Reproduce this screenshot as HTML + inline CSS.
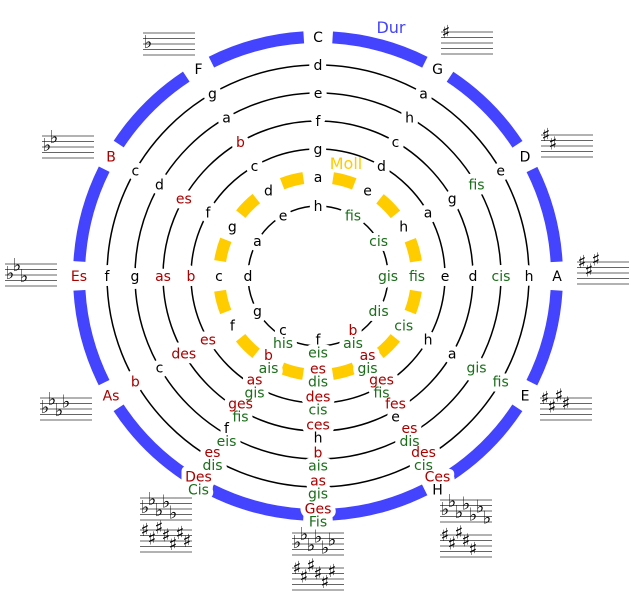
<!DOCTYPE html>
<html><head><meta charset="utf-8"><style>
html,body{margin:0;padding:0;background:#fff;}
svg{display:block;}
.l{font-family:"DejaVu Sans","Liberation Sans",sans-serif;font-size:14px;text-anchor:middle;}
.bg text{fill:#fff !important;stroke:#fff;stroke-width:10px;stroke-linejoin:round;}
.k{fill:#000}.r{fill:#aa0000}.g{fill:#1a6e1a}
.a{font-family:"DejaVu Sans",sans-serif;font-size:18px;text-anchor:middle;fill:#000;}
</style></head><body>
<svg width="635" height="600" viewBox="0 0 635 600" xmlns="http://www.w3.org/2000/svg">
<defs><path id="st" d="M0 0h52M0 5.5h52M0 11h52M0 16.5h52M0 22h52" stroke="#666" stroke-width="1" fill="none"/></defs>
<g fill="none">
<circle cx="318" cy="276" r="239" stroke="#4444ff" stroke-width="12" stroke-dasharray="96.1 29.04" stroke-dashoffset="-14.5"/>
<circle cx="318" cy="276" r="211" stroke="#000" stroke-width="1.5"/>
<circle cx="318" cy="276" r="183" stroke="#000" stroke-width="1.5"/>
<circle cx="318" cy="276" r="155" stroke="#000" stroke-width="1.5"/>
<circle cx="318" cy="276" r="127" stroke="#000" stroke-width="1.5"/>
<circle cx="318" cy="276" r="99" stroke="#ffcc00" stroke-width="12" stroke-dasharray="22 29.84" stroke-dashoffset="-14.9"/>
<circle cx="318" cy="276" r="70" stroke="#000" stroke-width="1.5"/>
</g>
<g class="l bg" aria-hidden="true">
<text x="318" y="42">C</text><text x="318" y="70">d</text><text x="318" y="98">e</text><text x="318" y="126">f</text><text x="318" y="154">g</text><text x="318" y="182">a</text><text x="318" y="211">h</text>
<text x="437.5" y="74">G</text><text x="423.5" y="98.3">a</text><text x="409.5" y="122.5">h</text><text x="395.5" y="146.8">c</text><text x="381.5" y="171">d</text><text x="367.5" y="195.3">e</text><text x="353" y="220.4">fis</text>
<text x="525" y="161.5">D</text><text x="500.7" y="175.5">e</text><text x="476.5" y="189.5">fis</text><text x="452.2" y="203.5">g</text><text x="428" y="217.5">a</text><text x="403.7" y="231.5">h</text><text x="378.6" y="246">cis</text>
<text x="557" y="281">A</text><text x="529" y="281">h</text><text x="501" y="281">cis</text><text x="473" y="281">d</text><text x="445" y="281">e</text><text x="417" y="281">fis</text><text x="388" y="281">gis</text>
<text x="525" y="400.5">E</text><text x="500.7" y="386.5">fis</text><text x="476.5" y="372.5">gis</text><text x="452.2" y="358.5">a</text><text x="428" y="344.5">h</text><text x="403.7" y="330.5">cis</text><text x="378.6" y="316">dis</text>
<text x="437.5" y="481.5">Ces</text><text x="437.5" y="494.5">H</text><text x="423.5" y="457.2">des</text><text x="423.5" y="470.2">cis</text><text x="409.5" y="433">es</text><text x="409.5" y="446">dis</text><text x="395.5" y="408.7">fes</text><text x="395.5" y="421.7">e</text><text x="381.5" y="384.5">ges</text><text x="381.5" y="397.5">fis</text><text x="367.5" y="360.2">as</text><text x="367.5" y="373.2">gis</text><text x="353" y="335.1">b</text><text x="353" y="348.1">ais</text>
<text x="318" y="513.5">Ges</text><text x="318" y="526.5">Fis</text><text x="318" y="485.5">as</text><text x="318" y="498.5">gis</text><text x="318" y="457.5">b</text><text x="318" y="470.5">ais</text><text x="318" y="429.5">ces</text><text x="318" y="442.5">h</text><text x="318" y="401.5">des</text><text x="318" y="414.5">cis</text><text x="318" y="373.5">es</text><text x="318" y="386.5">dis</text><text x="318" y="344.5">f</text><text x="318" y="357.5">eis</text>
<text x="198.5" y="481.5">Des</text><text x="198.5" y="494.5">Cis</text><text x="212.5" y="457.2">es</text><text x="212.5" y="470.2">dis</text><text x="226.5" y="433">f</text><text x="226.5" y="446">eis</text><text x="240.5" y="408.7">ges</text><text x="240.5" y="421.7">fis</text><text x="254.5" y="384.5">as</text><text x="254.5" y="397.5">gis</text><text x="268.5" y="360.2">b</text><text x="268.5" y="373.2">ais</text><text x="283" y="335.1">c</text><text x="283" y="348.1">his</text>
<text x="111" y="400.5">As</text><text x="135.3" y="386.5">b</text><text x="159.5" y="372.5">c</text><text x="183.8" y="358.5">des</text><text x="208" y="344.5">es</text><text x="232.3" y="330.5">f</text><text x="257.4" y="316">g</text>
<text x="79" y="281">Es</text><text x="107" y="281">f</text><text x="135" y="281">g</text><text x="163" y="281">as</text><text x="191" y="281">b</text><text x="219" y="281">c</text><text x="248" y="281">d</text>
<text x="111" y="161.5">B</text><text x="135.3" y="175.5">c</text><text x="159.5" y="189.5">d</text><text x="183.8" y="203.5">es</text><text x="208" y="217.5">f</text><text x="232.3" y="231.5">g</text><text x="257.4" y="246">a</text>
<text x="198.5" y="74">F</text><text x="212.5" y="98.3">g</text><text x="226.5" y="122.5">a</text><text x="240.5" y="146.8">b</text><text x="254.5" y="171">c</text><text x="268.5" y="195.3">d</text><text x="283" y="220.4">e</text>
</g>
<g class="l">
<text class="k" x="318" y="42">C</text><text class="k" x="318" y="70">d</text><text class="k" x="318" y="98">e</text><text class="k" x="318" y="126">f</text><text class="k" x="318" y="154">g</text><text class="k" x="318" y="182">a</text><text class="k" x="318" y="211">h</text>
<text class="k" x="437.5" y="74">G</text><text class="k" x="423.5" y="98.3">a</text><text class="k" x="409.5" y="122.5">h</text><text class="k" x="395.5" y="146.8">c</text><text class="k" x="381.5" y="171">d</text><text class="k" x="367.5" y="195.3">e</text><text class="g" x="353" y="220.4">fis</text>
<text class="k" x="525" y="161.5">D</text><text class="k" x="500.7" y="175.5">e</text><text class="g" x="476.5" y="189.5">fis</text><text class="k" x="452.2" y="203.5">g</text><text class="k" x="428" y="217.5">a</text><text class="k" x="403.7" y="231.5">h</text><text class="g" x="378.6" y="246">cis</text>
<text class="k" x="557" y="281">A</text><text class="k" x="529" y="281">h</text><text class="g" x="501" y="281">cis</text><text class="k" x="473" y="281">d</text><text class="k" x="445" y="281">e</text><text class="g" x="417" y="281">fis</text><text class="g" x="388" y="281">gis</text>
<text class="k" x="525" y="400.5">E</text><text class="g" x="500.7" y="386.5">fis</text><text class="g" x="476.5" y="372.5">gis</text><text class="k" x="452.2" y="358.5">a</text><text class="k" x="428" y="344.5">h</text><text class="g" x="403.7" y="330.5">cis</text><text class="g" x="378.6" y="316">dis</text>
<text class="r" x="437.5" y="481.5">Ces</text><text class="k" x="437.5" y="494.5">H</text>
<text class="r" x="423.5" y="457.2">des</text><text class="g" x="423.5" y="470.2">cis</text>
<text class="r" x="409.5" y="433">es</text><text class="g" x="409.5" y="446">dis</text>
<text class="r" x="395.5" y="408.7">fes</text><text class="k" x="395.5" y="421.7">e</text>
<text class="r" x="381.5" y="384.5">ges</text><text class="g" x="381.5" y="397.5">fis</text>
<text class="r" x="367.5" y="360.2">as</text><text class="g" x="367.5" y="373.2">gis</text>
<text class="r" x="353" y="335.1">b</text><text class="g" x="353" y="348.1">ais</text>
<text class="r" x="318" y="513.5">Ges</text><text class="g" x="318" y="526.5">Fis</text>
<text class="r" x="318" y="485.5">as</text><text class="g" x="318" y="498.5">gis</text>
<text class="r" x="318" y="457.5">b</text><text class="g" x="318" y="470.5">ais</text>
<text class="r" x="318" y="429.5">ces</text><text class="k" x="318" y="442.5">h</text>
<text class="r" x="318" y="401.5">des</text><text class="g" x="318" y="414.5">cis</text>
<text class="r" x="318" y="373.5">es</text><text class="g" x="318" y="386.5">dis</text>
<text class="k" x="318" y="344.5">f</text><text class="g" x="318" y="357.5">eis</text>
<text class="r" x="198.5" y="481.5">Des</text><text class="g" x="198.5" y="494.5">Cis</text>
<text class="r" x="212.5" y="457.2">es</text><text class="g" x="212.5" y="470.2">dis</text>
<text class="k" x="226.5" y="433">f</text><text class="g" x="226.5" y="446">eis</text>
<text class="r" x="240.5" y="408.7">ges</text><text class="g" x="240.5" y="421.7">fis</text>
<text class="r" x="254.5" y="384.5">as</text><text class="g" x="254.5" y="397.5">gis</text>
<text class="r" x="268.5" y="360.2">b</text><text class="g" x="268.5" y="373.2">ais</text>
<text class="k" x="283" y="335.1">c</text><text class="g" x="283" y="348.1">his</text>
<text class="r" x="111" y="400.5">As</text><text class="r" x="135.3" y="386.5">b</text><text class="k" x="159.5" y="372.5">c</text><text class="r" x="183.8" y="358.5">des</text><text class="r" x="208" y="344.5">es</text><text class="k" x="232.3" y="330.5">f</text><text class="k" x="257.4" y="316">g</text>
<text class="r" x="79" y="281">Es</text><text class="k" x="107" y="281">f</text><text class="k" x="135" y="281">g</text><text class="r" x="163" y="281">as</text><text class="r" x="191" y="281">b</text><text class="k" x="219" y="281">c</text><text class="k" x="248" y="281">d</text>
<text class="r" x="111" y="161.5">B</text><text class="k" x="135.3" y="175.5">c</text><text class="k" x="159.5" y="189.5">d</text><text class="r" x="183.8" y="203.5">es</text><text class="k" x="208" y="217.5">f</text><text class="k" x="232.3" y="231.5">g</text><text class="k" x="257.4" y="246">a</text>
<text class="k" x="198.5" y="74">F</text><text class="k" x="212.5" y="98.3">g</text><text class="k" x="226.5" y="122.5">a</text><text class="r" x="240.5" y="146.8">b</text><text class="k" x="254.5" y="171">c</text><text class="k" x="268.5" y="195.3">d</text><text class="k" x="283" y="220.4">e</text>
</g>
<text x="391" y="33" font-family="DejaVu Sans,sans-serif" font-size="16" fill="#4444ff" text-anchor="middle">Dur</text>
<text x="346" y="169" font-family="DejaVu Sans,sans-serif" font-size="16" fill="#ffcc00" text-anchor="middle">Moll</text>
<use href="#st" x="143" y="33"/><use href="#st" x="441" y="32"/>
<use href="#st" x="42" y="136"/><use href="#st" x="541" y="135"/>
<use href="#st" x="5" y="264"/><use href="#st" x="577" y="262"/>
<use href="#st" x="40" y="398"/><use href="#st" x="540" y="398"/>
<use href="#st" x="140" y="498"/><use href="#st" x="140" y="530"/>
<use href="#st" x="440" y="500"/><use href="#st" x="440" y="535"/>
<use href="#st" x="292" y="533"/><use href="#st" x="292" y="568"/>
<g class="a">
<text x="148" y="48">♭</text>
<text x="446" y="38">♯</text>
<text x="47" y="151">♭</text><text x="54" y="142.8">♭</text>
<text x="546" y="141">♯</text><text x="553" y="149.3">♯</text>
<text x="10" y="279">♭</text><text x="17" y="270.8">♭</text><text x="24" y="281.8">♭</text>
<text x="582" y="268">♯</text><text x="589" y="276.3">♯</text><text x="596" y="265.3">♯</text>
<text x="45" y="413">♭</text><text x="52" y="404.8">♭</text><text x="59" y="415.8">♭</text><text x="66" y="407.5">♭</text>
<text x="545" y="404">♯</text><text x="552" y="412.3">♯</text><text x="559" y="401.3">♯</text><text x="566" y="409.5">♯</text>
<text x="145" y="513">♭</text><text x="152" y="504.8">♭</text><text x="159" y="515.8">♭</text><text x="166" y="507.5">♭</text><text x="173" y="518.5">♭</text>
<text x="145" y="536">♯</text><text x="152" y="544.3">♯</text><text x="159" y="533.3">♯</text><text x="166" y="541.5">♯</text><text x="173" y="549.8">♯</text><text x="180" y="538.8">♯</text><text x="187" y="547">♯</text>
<text x="445" y="515">♭</text><text x="452" y="506.8">♭</text><text x="459" y="517.8">♭</text><text x="466" y="509.5">♭</text><text x="473" y="520.5">♭</text><text x="480" y="512.3">♭</text><text x="487" y="523.3">♭</text>
<text x="445" y="541">♯</text><text x="452" y="549.3">♯</text><text x="459" y="538.3">♯</text><text x="466" y="546.5">♯</text><text x="473" y="554.8">♯</text>
<text x="297" y="548">♭</text><text x="304" y="539.8">♭</text><text x="311" y="550.8">♭</text><text x="318" y="542.5">♭</text><text x="325" y="553.5">♭</text><text x="332" y="545.3">♭</text>
<text x="297" y="574">♯</text><text x="304" y="582.3">♯</text><text x="311" y="571.3">♯</text><text x="318" y="579.5">♯</text><text x="325" y="587.8">♯</text><text x="332" y="576.8">♯</text>
</g>
</svg>
</body></html>
